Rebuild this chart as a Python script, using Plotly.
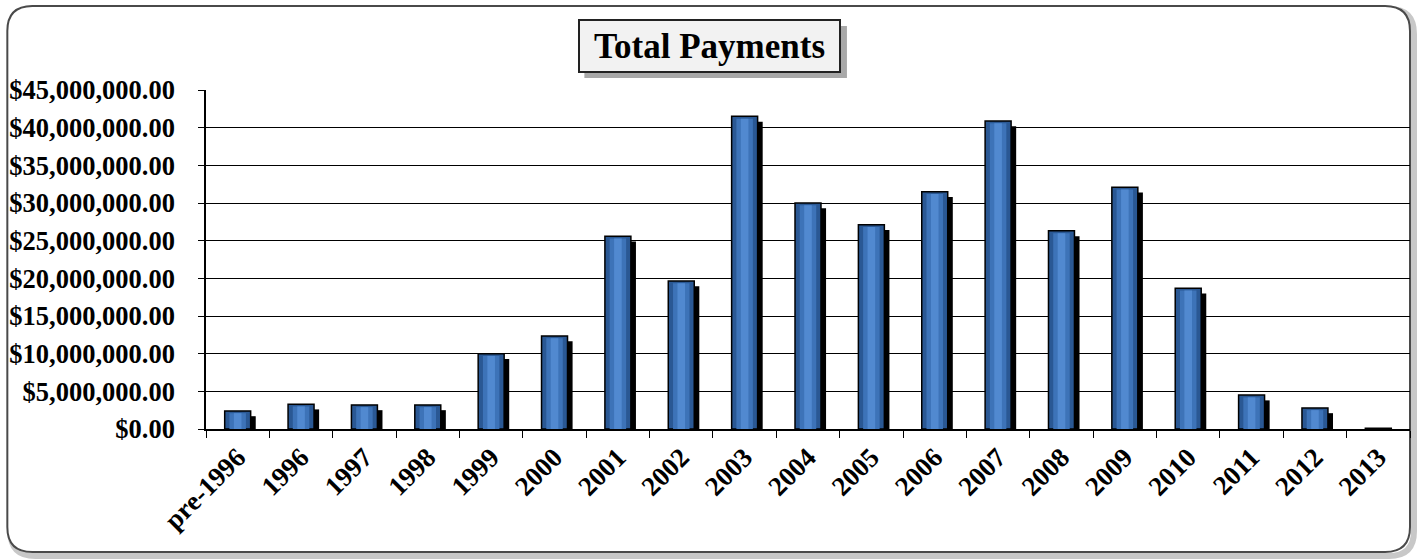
import plotly.graph_objects as go

categories = ["pre-1996", "1996", "1997", "1998", "1999", "2000", "2001", "2002", "2003",
              "2004", "2005", "2006", "2007", "2008", "2009", "2010", "2011", "2012", "2013"]
payments = [2400000, 3300000, 3200000, 3200000, 10000000, 12350000, 25600000, 19650000, 41500000,
            30000000, 27100000, 31500000, 40900000, 26300000, 32100000, 18700000, 4500000, 2800000, 100000]
y_ticks = [0, 5e6, 10e6, 15e6, 20e6, 25e6, 30e6, 35e6, 40e6, 45e6]

W, H = 1419, 560
ML, MR, MT, MB = 204, 9, 90, 131
PW = W - ML - MR
PH = H - MT - MB

def px_x(p):
    return (p - ML) / PW

def px_y(p):
    return (H - MB - p) / PH

FONT = "Liberation Serif, Times New Roman, serif"

shadow_drop = 700000
shadow_vals = [max(v - shadow_drop, 0) for v in payments]
stripe_vals = [max(v - 300000, 0) for v in payments]

fig = go.Figure()
fig.add_trace(go.Bar(x=categories, y=shadow_vals, width=0.41, offset=-0.205 + 0.08,
                     marker=dict(color="black", line=dict(width=0)), hoverinfo="skip", showlegend=False))
fig.add_trace(go.Bar(x=categories, y=payments, width=0.41, offset=-0.205,
                     marker=dict(color="#2a5894", line=dict(color="black", width=1.5)),
                     name="Total Payments", showlegend=False))
fig.add_trace(go.Bar(x=categories, y=stripe_vals, width=0.26, offset=-0.13,
                     marker=dict(color="#3d73b8", line=dict(width=0)), hoverinfo="skip", showlegend=False))
fig.add_trace(go.Bar(x=categories, y=stripe_vals, width=0.12, offset=-0.06,
                     marker=dict(color="#5189d0", line=dict(width=0)), hoverinfo="skip", showlegend=False))

# rounded frame
def rrect(x0, y0, x1, y1, r):
    X0, X1 = px_x(x0), px_x(x1)
    Y0, Y1 = px_y(y0), px_y(y1)
    rx, ry = r / PW, r / PH
    return (f"M {X0+rx},{Y0} L {X1-rx},{Y0} Q {X1},{Y0} {X1},{Y0-ry} "
            f"L {X1},{Y1+ry} Q {X1},{Y1} {X1-rx},{Y1} L {X0+rx},{Y1} Q {X0},{Y1} {X0},{Y1+ry} "
            f"L {X0},{Y0-ry} Q {X0},{Y0} {X0+rx},{Y0} Z")

shapes = [
    dict(type="path", xref="paper", yref="paper", path=rrect(8, 9, 1414, 556, 25),
         line=dict(color="#c8c8c8", width=6), layer="below"),
    dict(type="path", xref="paper", yref="paper", path=rrect(5, 6, 1410, 552, 25),
         line=dict(color="#4a4a4a", width=2), fillcolor="white", layer="below"),
    # title box shadow
    dict(type="rect", xref="paper", yref="paper", x0=px_x(583), x1=px_x(846), y0=px_y(26), y1=px_y(78),
         line=dict(width=0), fillcolor="#a8a8a8", layer="below"),
]

fig.add_annotation(xref="paper", yref="paper", x=px_x(708), y=px_y(46), xanchor="center", yanchor="middle",
                   text="<b>Total Payments</b>", showarrow=False, width=251, height=42,
                   font=dict(family=FONT, size=35, color="black"),
                   bgcolor="#f2f2f2", bordercolor="#222222", borderwidth=2, borderpad=4)

fig.update_layout(
    width=W, height=H,
    margin=dict(l=ML, r=MR, t=MT, b=MB),
    paper_bgcolor="rgba(0,0,0,0)", plot_bgcolor="rgba(0,0,0,0)",
    barmode="overlay", shapes=shapes,
    font=dict(family=FONT, color="black"),
)
fig.update_xaxes(showline=True, linecolor="black", linewidth=1.5, ticks="outside", ticklen=7,
                 tickcolor="black", tickwidth=1, tickangle=-45, showgrid=False,
                 tickfont=dict(family=FONT, size=27, color="black", weight="bold"),
                 tickson="boundaries")
fig.update_yaxes(range=[0, 45e6], tickvals=y_ticks, tickformat="$,.2f", showline=True, linecolor="black",
                 linewidth=1.5, ticks="outside", ticklen=6, tickcolor="black", showgrid=True,
                 gridcolor="black", gridwidth=1, zeroline=False,
                 tickfont=dict(family=FONT, size=26.5, color="black", weight="bold"),
                 ticklabelstandoff=18)

fig.write_html("out.html", config={"displayModeBar": False},
               post_script="document.body.style.margin='0px';")
